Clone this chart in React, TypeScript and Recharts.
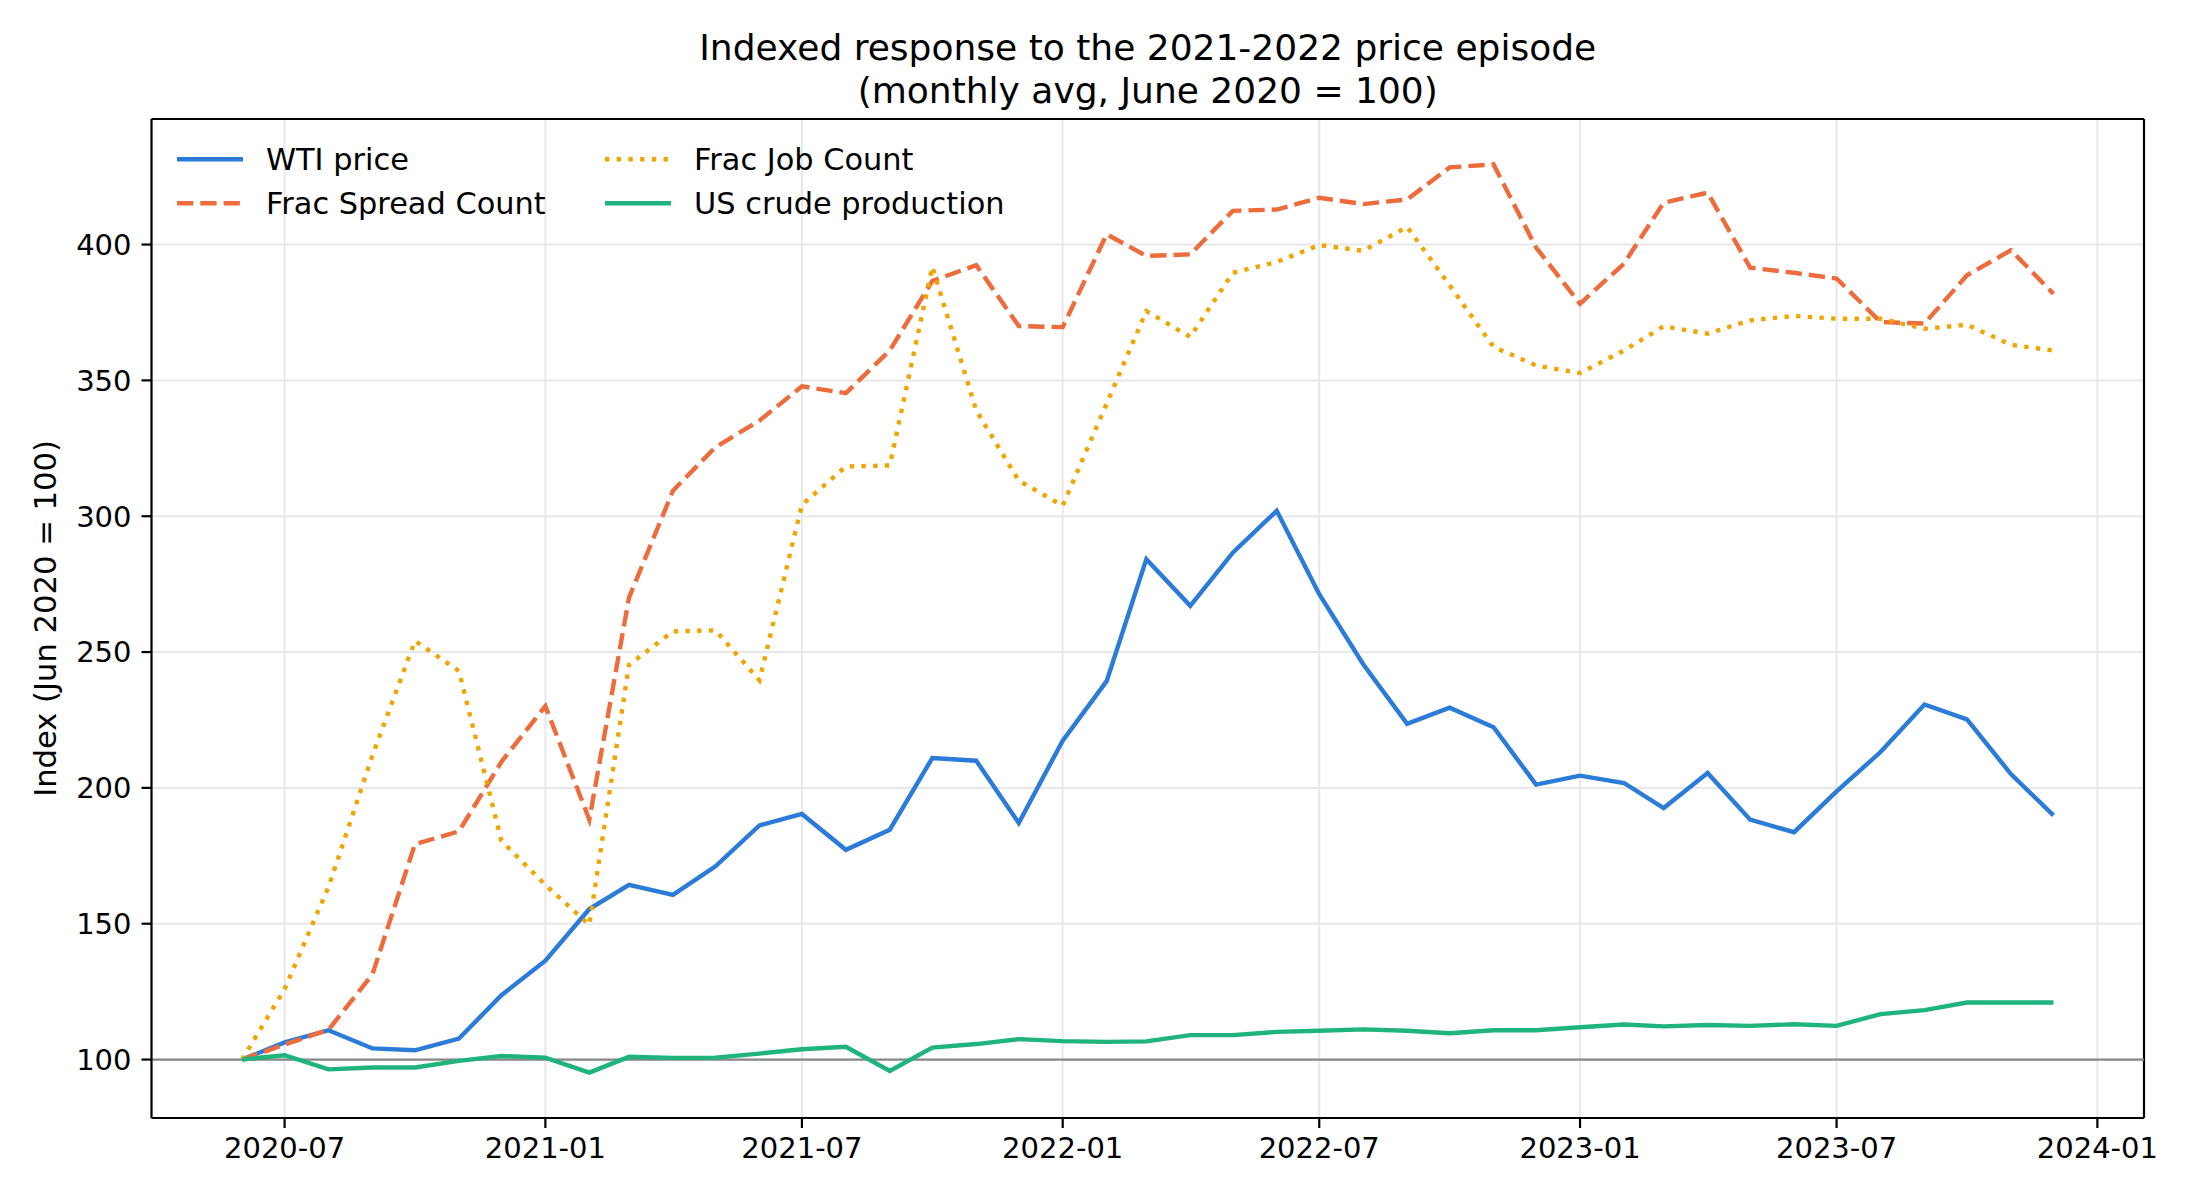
import {
  LineChart,
  Line,
  XAxis,
  YAxis,
  CartesianGrid,
  ReferenceLine,
} from "recharts";

// monthly observations, June 2020 = 100
const months = [
  "2020-06", "2020-07", "2020-08", "2020-09", "2020-10", "2020-11", "2020-12",
  "2021-01", "2021-02", "2021-03", "2021-04", "2021-05", "2021-06",
  "2021-07", "2021-08", "2021-09", "2021-10", "2021-11", "2021-12",
  "2022-01", "2022-02", "2022-03", "2022-04", "2022-05", "2022-06",
  "2022-07", "2022-08", "2022-09", "2022-10", "2022-11", "2022-12",
  "2023-01", "2023-02", "2023-03", "2023-04", "2023-05", "2023-06",
  "2023-07", "2023-08", "2023-09", "2023-10", "2023-11", "2023-12",
];

const wtiPrice = [
  100, 106.3, 110.8, 104.1, 103.4, 107.7, 123.7,
  136.4, 155.4, 164.3, 160.6, 171.1, 186.2,
  190.4, 177.2, 184.6, 211.0, 210.0, 187.1,
  217.4, 239.3, 284.2, 267.0, 286.6, 302.0,
  271.3, 245.5, 223.6, 229.5, 222.3, 201.2,
  204.5, 201.8, 192.6, 205.5, 188.3, 183.7,
  198.7, 213.2, 230.7, 225.2, 205.1, 189.9,
];

const fracSpread = [
  100, 105.5, 111.0, 131.4, 179.3, 184.0, 209.6,
  230.1, 188.3, 270.0, 309.4, 325.4, 335.2,
  347.8, 345.3, 361.0, 386.6, 392.4, 370.0,
  369.6, 403.8, 395.8, 396.4, 412.4, 412.9,
  417.2, 414.9, 416.6, 428.4, 429.5, 398.9,
  378.2, 393.0, 415.4, 419.1, 391.5, 389.6,
  387.5, 371.5, 370.9, 388.7, 397.9, 381.9,
];

const fracJobs = [
  100, 125.9, 163.5, 212.0, 254.1, 243.0, 180.5,
  164.3, 149.6, 245.3, 257.6, 258.0, 239.6,
  304.2, 318.3, 318.7, 391.8, 338.9, 313.1,
  303.9, 341.4, 375.5, 366.0, 389.6, 393.6,
  399.8, 397.7, 406.5, 385.0, 362.3, 355.5,
  352.7, 361.0, 369.9, 367.2, 372.1, 373.7,
  372.7, 372.7, 369.0, 370.5, 363.1, 361.0,
];

const crudeProduction = [
  100, 101.6, 96.4, 97.1, 97.1, 99.5, 101.3,
  100.7, 95.2, 101.0, 100.6, 100.7, 102.2,
  103.8, 104.7, 95.8, 104.4, 105.7, 107.5,
  106.8, 106.5, 106.7, 109.0, 109.0, 110.2,
  110.6, 111.1, 110.6, 109.7, 110.8, 110.8,
  111.9, 112.9, 112.2, 112.7, 112.4, 113.0,
  112.4, 116.7, 118.2, 121.0, 121.0, 121.0,
];

const xTickLabels = ["2020-07", "2021-01", "2021-07", "2022-01", "2022-07", "2023-01", "2023-07", "2024-01"];
const yTicks = [100, 150, 200, 250, 300, 350, 400];

const FONT = "'DejaVu Sans', sans-serif";
const LW = 4.4;

const SERIES = [
  { key: "wti", name: "WTI price", color: "#2b7bd8", dash: undefined },
  { key: "spread", name: "Frac Spread Count", color: "#ee6c3b", dash: "16.3 7" },
  { key: "jobs", name: "Frac Job Count", color: "#f1a500", dash: "4.4 7.3" },
  { key: "crude", name: "US crude production", color: "#1fb37d", dash: undefined },
];

function toTime(s: string) {
  const [y, m] = s.split("-").map(Number);
  return Date.UTC(y, m - 1, 1);
}

function fmtMonth(v: number) {
  const d = new Date(v);
  return `${d.getUTCFullYear()}-${String(d.getUTCMonth() + 1).padStart(2, "0")}`;
}

const data = months.map((m, i) => ({
  t: toTime(m),
  wti: wtiPrice[i],
  spread: fracSpread[i],
  jobs: fracJobs[i],
  crude: crudeProduction[i],
}));

// matplotlib-style 5% margins
const tMin = data[0].t;
const tMax = data[data.length - 1].t;
const tPad = (tMax - tMin) * 0.05;
const xDomain = [tMin - tPad, tMax + tPad];

const allVals = [...wtiPrice, ...fracSpread, ...fracJobs, ...crudeProduction];
const vMin = Math.min(...allVals);
const vMax = Math.max(...allVals);
const vPad = (vMax - vMin) * 0.05;
const yDomain = [vMin - vPad, vMax + vPad];

const xTicks = xTickLabels.map(toTime);

const W = 2200;
const H = 1200;
const PLOT_LEFT = 151.5;
const PLOT_TOP = 119;
const PLOT_RIGHT = 2144;
const PLOT_BOTTOM = 1118;

const spine = { stroke: "#000", strokeWidth: 2.2 };
const tickStyle = { fontSize: 29, fill: "#000", fontFamily: FONT };

function Overlay() {
  const cx = (PLOT_LEFT + PLOT_RIGHT) / 2;
  const cy = (PLOT_TOP + PLOT_BOTTOM) / 2;
  const colX = [177, 605];
  const rowY = [159.3, 203.3];
  return (
    <svg
      width={W}
      height={H}
      style={{ position: "absolute", left: 0, top: 0, pointerEvents: "none" }}
      fontFamily={FONT}
    >
      <text x={cx} y={60} textAnchor="middle" fontSize={36} fill="#000">
        Indexed response to the 2021-2022 price episode
      </text>
      <text x={cx} y={103} textAnchor="middle" fontSize={36} fill="#000">
        (monthly avg, June 2020 = 100)
      </text>
      <text
        x={55.6}
        y={cy}
        transform={`rotate(-90 55.6 ${cy})`}
        textAnchor="middle"
        fontSize={30.6}
        fill="#000"
      >
        Index (Jun 2020 = 100)
      </text>
      {SERIES.map((s, i) => {
        const x = colX[Math.floor(i / 2)];
        const y = rowY[i % 2];
        return (
          <g key={s.key}>
            <line
              x1={x}
              x2={x + 66}
              y1={y}
              y2={y}
              stroke={s.color}
              strokeWidth={LW}
              strokeDasharray={s.dash}
            />
            <text x={x + 89} y={y + 11} fontSize={30.4} fill="#000">
              {s.name}
            </text>
          </g>
        );
      })}
    </svg>
  );
}

export default function App() {
  return (
    <div style={{ position: "absolute", left: 0, top: 0, width: W, height: H, background: "#fff" }}>
      <LineChart
        width={W}
        height={H}
        data={data}
        margin={{ top: PLOT_TOP, right: W - PLOT_RIGHT, bottom: 0, left: 0 }}
        style={{ fontFamily: FONT }}
      >
        <CartesianGrid stroke="#e8e8e8" strokeWidth={2} />
        <XAxis
          dataKey="t"
          type="number"
          domain={xDomain}
          ticks={xTicks}
          tickFormatter={fmtMonth}
          allowDataOverflow
          height={H - PLOT_BOTTOM}
          tick={tickStyle}
          tickSize={10}
          tickMargin={9}
          axisLine={spine}
          tickLine={spine}
          interval={0}
        />
        <YAxis
          type="number"
          domain={yDomain}
          ticks={yTicks}
          allowDataOverflow
          width={PLOT_LEFT}
          tick={tickStyle}
          tickSize={10}
          tickMargin={10}
          axisLine={spine}
          tickLine={spine}
          interval={0}
        />
        {/* top and right spines of the axes box */}
        <ReferenceLine y={yDomain[1]} stroke="#000" strokeWidth={2.2} />
        <ReferenceLine x={xDomain[1]} stroke="#000" strokeWidth={2.2} />
        <ReferenceLine y={100} stroke="#888" strokeWidth={2.2} />
        {SERIES.map((s) => (
          <Line
            key={s.key}
            type="linear"
            dataKey={s.key}
            name={s.name}
            stroke={s.color}
            strokeWidth={LW}
            strokeDasharray={s.dash}
            dot={false}
            activeDot={false}
            isAnimationActive={false}
          />
        ))}
      </LineChart>
      <Overlay />
    </div>
  );
}
